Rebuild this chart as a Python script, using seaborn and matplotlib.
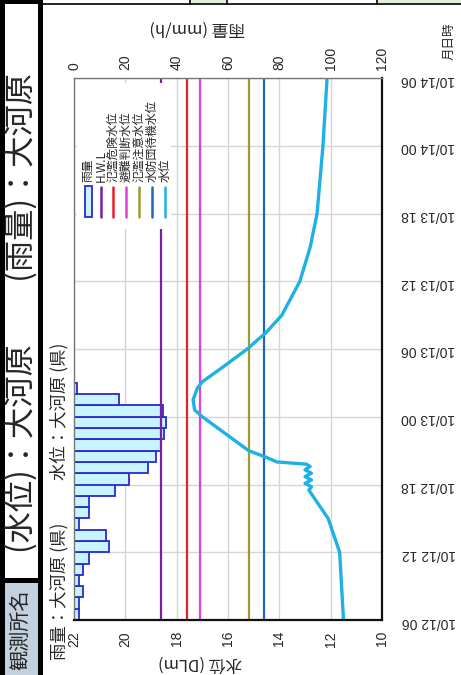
import matplotlib

matplotlib.use("Agg")

import numpy as np
import matplotlib.pyplot as plt
import seaborn as sns
from matplotlib.patches import Rectangle
from matplotlib.lines import Line2D

# time axis: hours after 10/12 06:00
time_ticks = [0, 6, 12, 18, 24, 30, 36, 42, 48]
time_labels = ["10/12 06", "10/12 12", "10/12 18", "10/13 00", "10/13 06",
               "10/13 12", "10/13 18", "10/14 00", "10/14 06"]

# hourly rainfall (mm/h), first bar = 06-07
rain_hours = list(range(21))
rain_mm = [2, 2, 3.5, 2, 3.5, 6, 13.5, 12.5, 2, 6, 6, 16, 21.5, 29, 32, 34,
           35, 36, 34.5, 17.5, 1]

# water level (DLm)
level_hours = [0, 2, 4, 6, 7, 8, 9, 10, 11, 11.5, 11.8, 12.1, 12.4, 12.7, 13.0,
               13.3, 13.6, 13.8, 14.0, 14.4, 15.0, 16.0, 17.0, 18.0, 18.6, 19.5,
               20.5, 21.1, 22.4, 24.0, 25.5, 27.0, 30.0, 33.0, 36.0, 42.0, 48.0]
level_m = [11.5, 11.55, 11.6, 11.65, 11.8, 11.95, 12.1, 12.4, 12.7, 12.85, 12.75,
           13.0, 12.75, 13.0, 12.75, 13.0, 12.8, 12.95, 14.1, 14.5, 15.2, 15.8,
           16.4, 17.0, 17.3, 17.36, 17.2, 17.0, 16.2, 15.25, 14.5, 13.9, 13.2,
           12.8, 12.53, 12.3, 12.14]

# reference levels
ref_names = ["H.W.L", "氾濫危険水位", "避難判断水位", "氾濫注意水位", "水防団待機水位"]
ref_levels = [18.6, 17.6, 17.1, 15.2, 14.6]
ref_colors = ["#7a1fa2", "#e8202a", "#e040e0", "#a09a30", "#2266c4"]

level_ticks = [22, 20, 18, 16, 14, 12, 10]
rain_ticks = [0, 20, 40, 60, 80, 100, 120]

water_color = "#1fb0e6"
bar_face = "#c8f4ff"
bar_edge = "#2a2ad0"

W, H = 461, 675


def fx(x):
    return x / W


def fy(y):
    return 1 - y / H


sns.set_style("white")
plt.rcParams["font.family"] = ["Liberation Sans", "Noto Sans CJK JP", "DejaVu Sans"]
cjk = ["Noto Sans CJK JP", "DejaVu Sans"]

fig = plt.figure(figsize=(W / 100, H / 100), dpi=100)

# rain axes (bottom layer), water-level axes on top
ax_r = fig.add_axes([fx(74), fy(620), fx(382) - fx(74), fy(78) - fy(620)])
ax_r.set_xlim(0, 120)
ax_r.set_ylim(0, 48)
ax_r.barh(np.array(rain_hours) + 0.5, rain_mm, height=1.0, color=bar_face,
          edgecolor=bar_edge, linewidth=1.3, zorder=2)
ax_r.set_xticks(rain_ticks)
ax_r.set_yticks(time_ticks)
ax_r.set_yticklabels(time_labels)
ax_r.grid(True, color="#d6d6d6", linewidth=1.0)
ax_r.set_axisbelow(True)
for s in ax_r.spines.values():
    s.set_visible(False)

ax_w = ax_r.twiny()
ax_w.set_xlim(22, 10)
ax_w.set_ylim(0, 48)
for lv, c in zip(ref_levels, ref_colors):
    ax_w.axvline(lv, color=c, linewidth=1.6)
sns.lineplot(x=level_m, y=level_hours, orient="y", ax=ax_w, color=water_color,
             linewidth=2.4, legend=False)
ax_w.set_xticks(level_ticks)
ax_w.xaxis.tick_bottom()
ax_r.xaxis.tick_top()
ax_r.yaxis.tick_right()

ax_w.tick_params(axis="x", length=0, pad=8, labelsize=10, labelrotation=90)
ax_r.tick_params(axis="x", length=0, pad=6, labelsize=10, labelrotation=90)
ax_r.tick_params(axis="y", length=0, pad=14, labelsize=10, labelrotation=180)

for side in ["bottom", "right"]:
    ax_w.spines[side].set_color("#111111")
    ax_w.spines[side].set_linewidth(1.6)
for side in ["top", "left"]:
    ax_w.spines[side].set_color("#777777")
    ax_w.spines[side].set_linewidth(1.0)

# axis titles
fig.text(fx(200), fy(663), "水位 (DLm)", rotation=180, ha="center", va="center",
         fontsize=12, family=cjk)
fig.text(fx(197), fy(28), "雨量 (mm/h)", rotation=180, ha="center", va="center",
         fontsize=12, family=cjk)
fig.text(fx(449), fy(41), "月日時", rotation=90, ha="center", va="center",
         fontsize=9, family=cjk)

# station names inside header area
fig.text(fx(59), fy(660), "雨量：大河原 (県)", rotation=90, ha="center",
         va="bottom", fontsize=12.5, family=cjk)
fig.text(fx(59), fy(480), "水位：大河原 (県)", rotation=90, ha="center",
         va="bottom", fontsize=12.5, family=cjk)

# legend (drawn rotated)
fig.patches.append(Rectangle((fx(77), fy(229)), fx(171) - fx(77), fy(83) - fy(229),
                             transform=fig.transFigure, facecolor="white",
                             edgecolor="none", zorder=3))
leg_x = [88, 101, 113, 126, 139, 152, 165]
leg_names = ["雨量"] + ref_names + ["水位"]
leg_colors = [None] + ref_colors + [water_color]
for i, (x, name) in enumerate(zip(leg_x, leg_names)):
    if i == 0:
        fig.patches.append(Rectangle((fx(x - 3.5), fy(217)), fx(7), fy(186) - fy(217),
                                     transform=fig.transFigure, facecolor=bar_face,
                                     edgecolor=bar_edge, linewidth=1.3, zorder=4))
    else:
        fig.lines.append(Line2D([fx(x), fx(x)], [fy(217), fy(187)],
                                transform=fig.transFigure, color=leg_colors[i],
                                linewidth=1.8, zorder=4))
    fig.text(fx(x), fy(182), name, rotation=90, ha="center", va="bottom",
             fontsize=8.5, family=cjk, zorder=5)

# left title band
fig.patches.append(Rectangle((0, 0), fx(43), 1, transform=fig.transFigure,
                             facecolor="black", edgecolor="none", zorder=1))
fig.patches.append(Rectangle((fx(5), 0), fx(33), fy(4), transform=fig.transFigure,
                             facecolor="white", edgecolor="none", zorder=1))
fig.patches.append(Rectangle((fx(5), 0), fx(33), fy(583), transform=fig.transFigure,
                             facecolor="#c3d0de", edgecolor="none", zorder=1))
fig.patches.append(Rectangle((fx(5), fy(583)), fx(33), fy(578) - fy(583),
                             transform=fig.transFigure, facecolor="black",
                             edgecolor="none", zorder=1))
fig.text(fx(21), fy(630), "観測所名", rotation=90, ha="center", va="center",
         fontsize=14.5, family=cjk)
fig.text(fx(21), fy(313), "(水位)：大河原　　(雨量)：大河原", rotation=90,
         ha="center", va="center", fontsize=22.5, family=cjk)

# top table fragment
fig.patches.append(Rectangle((fx(190), fy(3)), fx(37), fy(0) - fy(3),
                             transform=fig.transFigure, facecolor="#e2f0d9",
                             edgecolor="none", zorder=1))
fig.patches.append(Rectangle((fx(377), fy(3)), fx(84), fy(0) - fy(3),
                             transform=fig.transFigure, facecolor="#e2f0d9",
                             edgecolor="none", zorder=1))
fig.lines.append(Line2D([fx(43), 1], [fy(4), fy(4)], transform=fig.transFigure,
                        color="black", linewidth=1.2))
for x in [190, 227, 377]:
    fig.lines.append(Line2D([fx(x), fx(x)], [1, fy(4)], transform=fig.transFigure,
                            color="black", linewidth=1.2))

fig.savefig("out.png", dpi=100)
